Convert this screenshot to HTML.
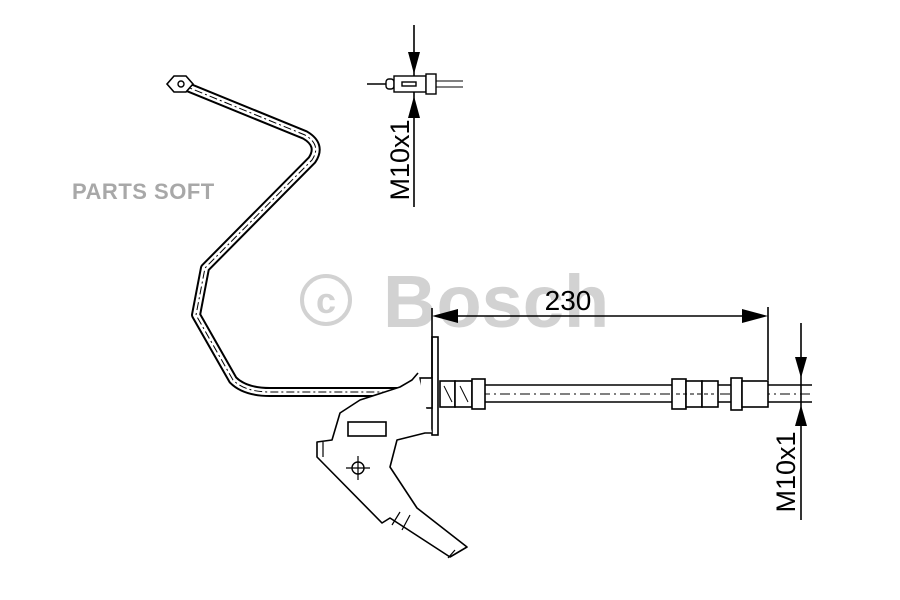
<!DOCTYPE html>
<html><head><meta charset="utf-8"><style>
html,body{margin:0;padding:0;background:#fff;}
svg{display:block}
</style></head><body>
<svg width="900" height="600" viewBox="0 0 900 600" xmlns="http://www.w3.org/2000/svg" font-family="Liberation Sans, sans-serif">
<!-- watermarks -->
<text x="72" y="199" font-size="22" font-weight="bold" fill="#a8a8a8" letter-spacing="0.5">PARTS SOFT</text>
<circle cx="326" cy="300" r="24" fill="none" stroke="#d2d2d2" stroke-width="4"/>
<text x="326" y="313" font-size="36" font-weight="bold" fill="#d2d2d2" text-anchor="middle">c</text>
<text x="383" y="327" font-size="74" font-weight="bold" fill="#d2d2d2">Bosch</text>

<g stroke="#000" fill="none">
<!-- pipe -->
<path d="M180,84 L305,135 Q322,145 312,160 L205,268 L196,315 L233,380 Q245,392 270,392 L432,392" stroke-width="10" stroke-linejoin="round"/>
<path d="M180,84 L305,135 Q322,145 312,160 L205,268 L196,315 L233,380 Q245,392 270,392 L432,392" stroke="#fff" stroke-width="6" stroke-linejoin="round"/>
<path d="M180,84 L305,135 Q322,145 312,160 L205,268 L196,315 L233,380 Q245,392 270,392 L432,392" stroke-width="1" stroke-dasharray="8,3,2,3"/>
<!-- nut -->
<polygon points="167,84 174,76 186,76 193,84 186,92 174,92" fill="#fff" stroke-width="1.6"/>
<circle cx="181" cy="84" r="3" stroke-width="1.4"/>

<!-- hose -->
<line x1="440" y1="385" x2="812" y2="385" stroke-width="1.6"/>
<line x1="440" y1="402" x2="812" y2="402" stroke-width="1.6"/>
<line x1="440" y1="394" x2="812" y2="394" stroke-width="1" stroke-dasharray="10,4,2,4"/>
<!-- fittings left -->
<rect x="440" y="381" width="15" height="26" fill="#fff" stroke-width="1.6"/>
<rect x="455" y="381" width="17" height="26" fill="#fff" stroke-width="1.6"/>
<rect x="472" y="379" width="13" height="30" fill="#fff" stroke-width="1.6"/>
<line x1="444" y1="386" x2="452" y2="402" stroke-width="1"/><line x1="460" y1="386" x2="468" y2="402" stroke-width="1"/>
<!-- fittings right -->
<rect x="672" y="379" width="14" height="30" fill="#fff" stroke-width="1.6"/>
<rect x="686" y="381" width="16" height="26" fill="#fff" stroke-width="1.6"/>
<rect x="702" y="381" width="16" height="26" fill="#fff" stroke-width="1.6"/>
<rect x="731" y="378" width="11" height="32" fill="#fff" stroke-width="1.6"/>
<rect x="742" y="381" width="26" height="26" fill="#fff" stroke-width="1.6"/>
<line x1="676" y1="394" x2="714" y2="394" stroke-width="1" stroke-dasharray="4,3"/>

<!-- bracket flange -->
<rect x="432" y="337" width="6" height="98" fill="#fff" stroke-width="1.6"/>
<rect x="420" y="378" width="12" height="30" fill="#fff" stroke-width="1.6"/>
<!-- bracket -->
<path d="M418,373 L412,380 L400,387 L360,400 L340,413 L332,440 L317,442 L317,457 L382,523 L390,518 L450,557 L467,547 L417,508 L390,467 L397,440 L425,433 L432,433" fill="#fff" stroke-width="1.6" stroke-linejoin="round"/>
<line x1="323" y1="442" x2="323" y2="457" stroke-width="1.2"/>
<line x1="400" y1="512" x2="392" y2="525" stroke-width="1.2"/>
<line x1="410" y1="515" x2="402" y2="530" stroke-width="1.2"/>
<line x1="455" y1="550" x2="448" y2="558" stroke-width="1.2"/>
<rect x="348" y="422" width="38" height="14" stroke-width="1.6"/>
<circle cx="358" cy="468" r="6" stroke-width="1.4"/>
<line x1="346" y1="468" x2="370" y2="468" stroke-width="1.2"/>
<line x1="358" y1="456" x2="358" y2="480" stroke-width="1.2"/>

<!-- dimension 230 -->
<line x1="432" y1="308" x2="432" y2="378" stroke-width="1.6"/>
<line x1="768" y1="307" x2="768" y2="380" stroke-width="1.6"/>
<line x1="440" y1="316" x2="760" y2="316" stroke-width="1.6"/>
</g>
<polygon points="432,316 458,309 458,323" fill="#000"/>
<polygon points="768,316 742,309 742,323" fill="#000"/>
<text x="568" y="310" font-size="28" text-anchor="middle" fill="#000">230</text>

<!-- right M10x1 -->
<line x1="801" y1="323" x2="801" y2="520" stroke="#000" stroke-width="1.6"/>
<polygon points="801,378 795,357 807,357" fill="#000"/>
<polygon points="801,405 795,426 807,426" fill="#000"/>
<text transform="translate(795,472) rotate(-90)" font-size="27" text-anchor="middle" fill="#000">M10x1</text>

<!-- top M10x1 -->
<line x1="414" y1="25" x2="414" y2="207" stroke="#000" stroke-width="1.6"/>
<polygon points="414,74 408,52 420,52" fill="#000"/>
<polygon points="414,96 408,118 420,118" fill="#000"/>
<text transform="translate(409,160) rotate(-90)" font-size="27" text-anchor="middle" fill="#000">M10x1</text>
<g stroke="#000" fill="#fff" stroke-width="1.4">
<line x1="367" y1="84" x2="386" y2="84"/>
<line x1="436" y1="81" x2="463" y2="81" stroke-width="1"/>
<line x1="436" y1="87" x2="463" y2="87" stroke-width="1"/>
<rect x="386" y="79" width="8" height="10" rx="3"/>
<rect x="394" y="76" width="32" height="16"/>
<rect x="402" y="82" width="14" height="4"/>
<rect x="426" y="74" width="10" height="20"/>
</g>
</svg>
</body></html>
